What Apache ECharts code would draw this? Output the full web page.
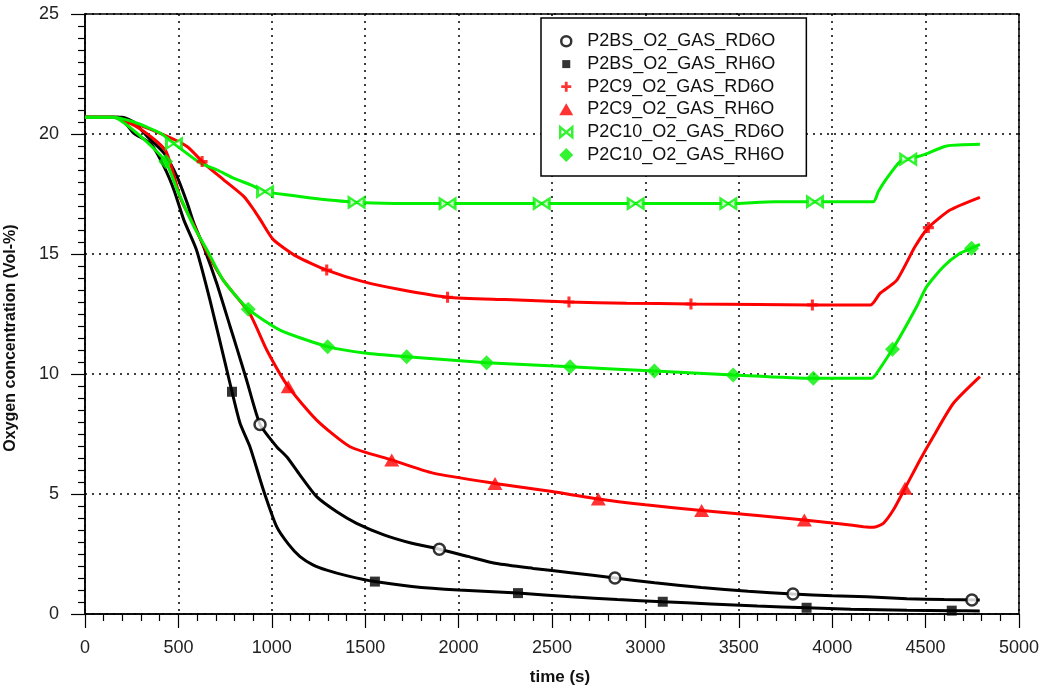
<!DOCTYPE html>
<html>
<head>
<meta charset="utf-8">
<script src="https://cdn.jsdelivr.net/npm/echarts@6/dist/echarts.min.js"></script>
<style>
html,body{margin:0;padding:0;background:#fff;}
#chart{width:1042px;height:691px;}
</style>
</head>
<body>
<div id="chart"></div>
<script>
// ---- data ----
const seriesNames = ['P2BS_O2_GAS_RD6O','P2BS_O2_GAS_RH6O','P2C9_O2_GAS_RD6O','P2C9_O2_GAS_RH6O','P2C10_O2_GAS_RD6O','P2C10_O2_GAS_RH6O'];
const xTicks = [0,500,1000,1500,2000,2500,3000,3500,4000,4500,5000];
const yTicks = [0,5,10,15,20,25];
const xTitle = 'time (s)';
const yTitle = 'Oxygen concentration (Vol-%)';

// P2BS_O2_GAS_RD6O
const tBSRD = [0,200,260,333,423,494,548,583,640,705,776,812,865,937,1026,1080,1150,1240,1350,1454,1600,1750,1897,2050,2204,2400,2600,2837,3050,3300,3550,3790,4000,4185,4400,4600,4790];
const vBSRD = [20.7,20.7,20.5,19.9,19.2,18.2,17.1,16.28,15.2,13.78,12.0,11.1,9.75,7.9,6.97,6.55,5.8,4.89,4.25,3.78,3.3,2.95,2.7,2.4,2.1,1.9,1.72,1.5,1.3,1.1,0.95,0.83,0.76,0.72,0.64,0.6,0.58];
const mtBSRD = [937,1897,2837,3790,4748];
const mvBSRD = [7.9,2.7,1.5,0.83,0.58];

// P2BS_O2_GAS_RH6O
const tBSRH = [0,180,262,352,423,476,530,597,669,758,787,830,883,955,1026,1090,1151,1220,1294,1400,1552,1750,2000,2318,2600,2850,3093,3350,3600,3863,4100,4400,4640,4790];
const vBSRH = [20.7,20.7,20.03,19.6,18.64,17.67,16.4,15.17,13.08,10.2,9.26,7.95,6.97,5.17,3.64,2.9,2.39,2.05,1.83,1.6,1.35,1.15,1.0,0.87,0.72,0.6,0.51,0.42,0.33,0.26,0.2,0.16,0.14,0.12];
const mtBSRH = [787,1552,2318,3093,3863,4640];
const mvBSRH = [9.26,1.35,0.87,0.51,0.26,0.14];

// P2C9_O2_GAS_RD6O
const tC9RD = [0,150,262,440,548,637,744,851,905,941,1008,1133,1294,1489,1700,1941,2250,2591,2900,3244,3600,3894,4206,4256,4345,4443,4515,4631,4791];
const vC9RD = [20.7,20.7,20.45,19.9,19.47,18.78,18.08,17.39,16.83,16.4,15.6,14.9,14.33,13.85,13.5,13.2,13.1,13.0,12.95,12.92,12.9,12.88,12.88,13.36,13.9,15.3,16.1,16.83,17.36];
const mtC9RD = [627,1294,1941,2591,3244,3894,4515];
const mvC9RD = [18.85,14.33,13.2,13.0,12.92,12.88,16.1];

// P2C9_O2_GAS_RH6O
const tC9RH = [0,150,298,432,512,583,651,741,883,973,1088,1240,1419,1642,1864,2195,2500,2748,3000,3301,3600,3851,4050,4167,4220,4274,4327,4390,4470,4541,4649,4791];
const vC9RH = [20.7,20.7,20.2,19.3,17.3,16.2,15.1,13.9,12.5,11.0,9.47,8.08,6.97,6.42,5.87,5.44,5.1,4.79,4.55,4.31,4.1,3.92,3.75,3.64,3.61,3.78,4.33,5.24,6.42,7.39,8.78,9.89];
const mtC9RH = [1088,1642,2195,2748,3301,3851,4390];
const mvC9RH = [9.47,6.42,5.44,4.79,4.31,3.92,5.24];

// P2C10_O2_GAS_RD6O
const tC10RD = [0,150,262,405,476,619,708,798,887,964,1100,1222,1454,1941,2445,2948,3444,3694,3908,4220,4247,4292,4363,4407,4488,4613,4791];
const vC10RD = [20.7,20.7,20.5,20.03,19.6,18.78,18.5,18.15,17.88,17.6,17.45,17.32,17.15,17.1,17.1,17.1,17.1,17.18,17.18,17.18,17.6,18.15,18.85,18.95,19.13,19.5,19.57];
const mtC10RD = [476,964,1454,1941,2445,2948,3444,3908,4407];
const mvC10RD = [19.6,17.6,17.15,17.1,17.1,17.1,17.1,17.18,18.95];

// P2C10_O2_GAS_RH6O
const tC10RH = [0,150,298,432,494,583,651,741,874,1044,1299,1508,1722,2150,2597,3048,3470,3899,4042,4211,4238,4323,4363,4452,4506,4595,4684,4746,4791];
const vC10RH = [20.7,20.7,19.9,18.85,17.67,16.14,15.2,13.9,12.7,11.83,11.14,10.86,10.72,10.47,10.3,10.12,9.96,9.82,9.82,9.82,10.03,11.03,11.55,12.8,13.64,14.47,15.03,15.24,15.4];
const mtC10RH = [432,874,1299,1722,2150,2597,3048,3470,3899,4323,4746];
const mvC10RH = [18.85,12.7,11.14,10.72,10.47,10.3,10.12,9.96,9.82,11.03,15.24];

// ---- build ----
const zip = (a, b) => a.map((x, i) => [x, b[i]]);
const curves = [
  {t: tBSRD, v: vBSRD, mt: mtBSRD, mv: mvBSRD},
  {t: tBSRH, v: vBSRH, mt: mtBSRH, mv: mvBSRH},
  {t: tC9RD, v: vC9RD, mt: mtC9RD, mv: mvC9RD},
  {t: tC9RH, v: vC9RH, mt: mtC9RH, mv: mvC9RH},
  {t: tC10RD, v: vC10RD, mt: mtC10RD, mv: mvC10RD},
  {t: tC10RH, v: vC10RH, mt: mtC10RH, mv: mvC10RH}
];
const BLACK = '#000000', RED = '#ff0000', GREEN = '#00f000';
const colors = [BLACK, BLACK, RED, RED, GREEN, GREEN];
const PLUS = 'path://M3.6,0H6.4V3.6H10V6.4H6.4V10H3.6V6.4H0V3.6H3.6Z';
const BOWTIE = 'path://M0,0L9,5L0,10Z M18,0L9,5L18,10Z';
const markerStyles = [
  {symbol: 'circle', size: 11, itemStyle: {color: '#fff', borderColor: BLACK, borderWidth: 2.5}},
  {symbol: 'rect', size: 10, itemStyle: {color: BLACK}},
  {symbol: PLUS, size: 11, itemStyle: {color: RED}},
  {symbol: 'triangle', size: [15, 13], itemStyle: {color: RED}},
  {symbol: BOWTIE, size: [15, 10], itemStyle: {color: '#fff', borderColor: GREEN, borderWidth: 2.5}},
  {symbol: 'diamond', size: [15, 15], itemStyle: {color: GREEN}}
];
// legend icons drawn in a padded 16x16 box so their sizes differ like the original
const legendIcons = [
  'path://M0,0M16,16M3,8A5,5,0,1,1,13,8A5,5,0,1,1,3,8Z',
  'path://M0,0M16,16M4,4H12V12H4Z',
  'path://M0,0M16,16M6.6,3H9.4V6.6H13V9.4H9.4V13H6.6V9.4H3V6.6H6.6Z',
  'path://M0,0M16,16M1,14L8,2L15,14Z',
  'path://M0,0M16,16M2,3L8,8L2,13Z M14,3L8,8L14,13Z',
  'path://M0,0M16,16M8,1L15,8L8,15L1,8Z'
];

const series = [];
curves.forEach((c, i) => {
  series.push({
    name: seriesNames[i], type: 'scatter', z: 4,
    symbol: markerStyles[i].symbol, symbolSize: markerStyles[i].size,
    itemStyle: markerStyles[i].itemStyle,
    data: zip(c.mt, c.mv), silent: true
  });
});
curves.forEach((c, i) => {
  series.push({
    name: seriesNames[i], type: 'line', z: 2,
    showSymbol: false, symbol: 'none', smooth: 0.2,
    lineStyle: {color: colors[i], width: 3},
    itemStyle: {color: colors[i]},
    data: zip(c.t, c.v)
  });
});

const chart = echarts.init(document.getElementById('chart'), null, {renderer: 'canvas'});
const labelFont = 'Liberation Sans, Arial, sans-serif';
chart.setOption({
  animation: false,
  backgroundColor: '#fff',
  grid: {left: 85, right: 23, top: 14, bottom: 77, show: true, borderColor: '#000', borderWidth: 1.5, backgroundColor: 'transparent'},
  legend: {
    orient: 'vertical', left: 541, top: 18,
    padding: [14, 22, 12, 16],
    itemWidth: 16, itemHeight: 16, itemGap: 4.6,
    borderColor: '#000', borderWidth: 1.5, backgroundColor: '#fff',
    textStyle: {fontFamily: labelFont, fontSize: 18, color: '#111', lineHeight: 18, padding: [0, 0, 0, 8]},
    data: seriesNames.map((n, i) => ({
      name: n,
      icon: legendIcons[i],
      itemStyle: markerStyles[i].itemStyle
    }))
  },
  graphic: [
    {type: 'text', x: 560, y: 677, style: {text: xTitle, font: 'bold 17px Liberation Sans, Arial, sans-serif', fill: '#111', align: 'center', verticalAlign: 'middle'}},
    {type: 'text', rotation: Math.PI / 2, x: 11, y: 338, style: {text: yTitle, font: 'bold 16px Liberation Sans, Arial, sans-serif', fill: '#111', align: 'center', verticalAlign: 'middle'}}
  ],
  xAxis: {
    type: 'value', min: xTicks[0], max: xTicks[xTicks.length - 1], interval: 500,
    axisLine: {show: true, lineStyle: {color: '#000', width: 1.5}},
    axisTick: {show: true, inside: false, length: 14, lineStyle: {color: '#000', width: 1.2}},
    minorTick: {show: true, splitNumber: 5, length: 7, lineStyle: {color: '#000', width: 1.2}},
    axisLabel: {fontFamily: labelFont, fontSize: 18, color: '#222', margin: 25, formatter: v => String(v)},
    splitLine: {show: true, lineStyle: {type: [2, 5], color: '#000', width: 1.5}}
  },
  yAxis: {
    type: 'value', min: yTicks[0], max: yTicks[yTicks.length - 1], interval: 5,
    axisLine: {show: true, lineStyle: {color: '#000', width: 1.5}},
    axisTick: {show: true, inside: false, length: 14, lineStyle: {color: '#000', width: 1.2}},
    minorTick: {show: true, splitNumber: 10, length: 7, lineStyle: {color: '#000', width: 1.2}},
    axisLabel: {fontFamily: labelFont, fontSize: 18, color: '#222', margin: 26, formatter: v => String(v)},
    splitLine: {show: true, lineStyle: {type: [2, 5], color: '#000', width: 1.5}}
  },
  series: series
});
</script>
</body>
</html>
